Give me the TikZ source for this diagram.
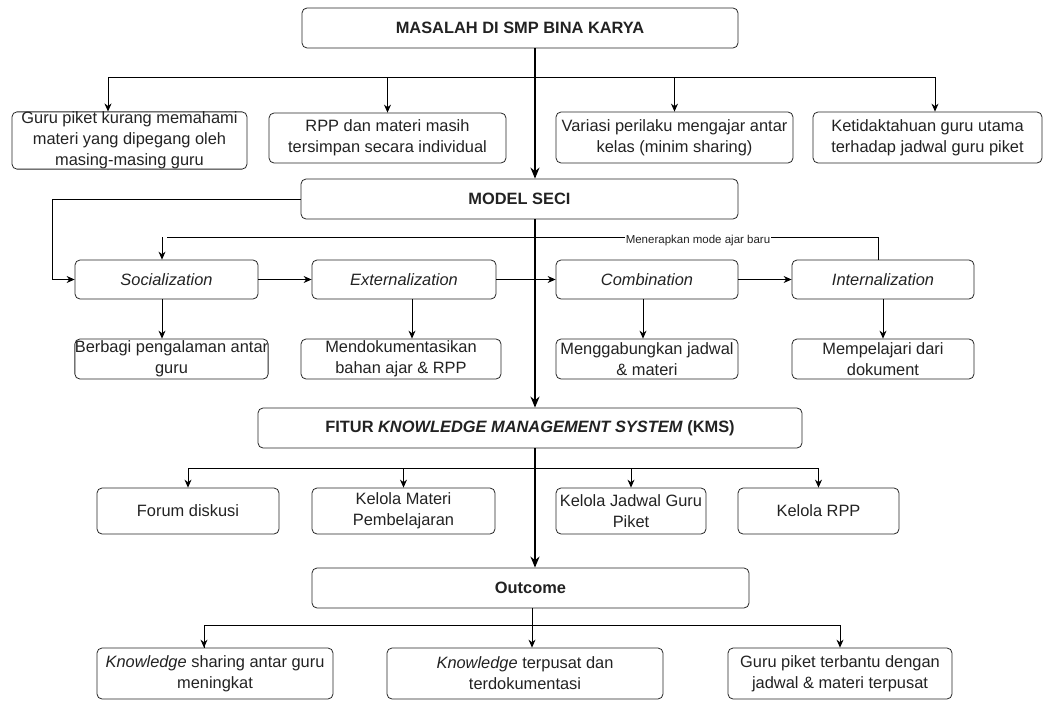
\documentclass[tikz,border=0pt]{standalone}
\usepackage{fontspec}
\setmainfont{Liberation Sans}
\usetikzlibrary{arrows.meta}
\definecolor{txt}{HTML}{222222}
\tikzset{
  box/.style={draw=black!85, line width=0.8pt, rounded corners=5pt, align=center, inner sep=0pt, text=txt,
    font=\fontsize{16.4}{21}\selectfont},
  thin/.style={line width=0.8pt, -{Stealth[length=8pt,width=7pt]}},
  thinline/.style={line width=0.8pt},
  thick/.style={line width=2pt, -{Stealth[length=11pt,width=9pt]}},
  lbl/.style={fill=white, inner sep=1pt, text=txt, font=\fontsize{11.5}{13}\selectfont}
}
\begin{document}
\begin{tikzpicture}[x=1pt,y=-1pt]
\useasboundingbox (0,0) rectangle (1053,701);
% main boxes
\node[box, minimum width=436pt, minimum height=40pt] (mas) at (520,28) {\textbf{MASALAH DI SMP BINA KARYA}};
\node[box, minimum width=235pt, minimum height=55pt] (p1) at (129.5,140.5) {Guru piket kurang memahami\\materi yang dipegang oleh\\masing-masing guru};
\node[box, minimum width=237pt, minimum height=50pt] (p2) at (387.5,138) {RPP dan materi masih\\tersimpan secara individual};
\node[box, minimum width=237pt, minimum height=51pt] (p3) at (674.5,137.5) {Variasi perilaku mengajar antar\\kelas (minim sharing)};
\node[box, minimum width=229pt, minimum height=51pt] (p4) at (927.5,137.5) {Ketidaktahuan guru utama\\terhadap jadwal guru piket};

\node[box, minimum width=437pt, minimum height=40pt] (seci) at (519.5,199) {\textbf{MODEL SECI}};
\node[box, minimum width=183pt, minimum height=39pt] (soc) at (166.5,279.5) {\textit{Socialization}};
\node[box, minimum width=184pt, minimum height=39pt] (ext) at (404,279.5) {\textit{Externalization}};
\node[box, minimum width=182pt, minimum height=39pt] (comb) at (647,279.5) {\textit{Combination}};
\node[box, minimum width=182pt, minimum height=39pt] (int) at (883,279.5) {\textit{Internalization}};

\node[box, minimum width=193pt, minimum height=40pt] (ber) at (171.5,359) {Berbagi pengalaman antar\\guru};
\node[box, minimum width=200pt, minimum height=40pt] (mend) at (401,359) {Mendokumentasikan\\bahan ajar \& RPP};
\node[box, minimum width=182pt, minimum height=40pt] (meng) at (647,359) {Menggabungkan jadwal\\\& materi};
\node[box, minimum width=182pt, minimum height=40pt] (memp) at (883,359) {Mempelajari dari\\dokument};

\node[box, minimum width=544pt, minimum height=40pt] (fitur) at (530,428) {\textbf{FITUR \textit{KNOWLEDGE MANAGEMENT SYSTEM} (KMS)}};
\node[box, minimum width=182pt, minimum height=46pt] (forum) at (188,511) {Forum diskusi};
\node[box, minimum width=183pt, minimum height=46pt] (kmat) at (403.5,511) {Kelola Materi\\Pembelajaran};
\node[box, minimum width=150pt, minimum height=46pt] (kjad) at (631,511) {Kelola Jadwal Guru\\Piket};
\node[box, minimum width=161pt, minimum height=46pt] (krpp) at (818.5,511) {Kelola RPP};

\node[box, minimum width=437pt, minimum height=40pt] (out) at (530.5,588) {\textbf{Outcome}};
\node[box, minimum width=236pt, minimum height=51pt] (o1) at (215,673.5) {\textit{Knowledge} sharing antar guru\\meningkat};
\node[box, minimum width=276pt, minimum height=51pt] (o2) at (525,673.5) {\textit{Knowledge} terpusat dan\\terdokumentasi};
\node[box, minimum width=224pt, minimum height=51pt] (o3) at (840,673.5) {Guru piket terbantu dengan\\jadwal \& materi terpusat};

% coordinates
\coordinate (m1) at ([xshift=15pt]mas.south);
\coordinate (mb) at ([xshift=15pt,yshift=-29pt]mas.south);
\coordinate (loopy) at (0,237);
\coordinate (fb) at (0,468);
\coordinate (ob) at (0,625);

% problem branch
\draw[thinline] (m1) -- (mb);
\draw[thin] (mb) -| ([xshift=-21.5pt]p1.north);
\draw[thin] (mb) -| (p2.north);
\draw[thin] (mb) -| (p3.north);
\draw[thin] (mb) -| ([xshift=7.5pt]p4.north);

% SECI
\draw[thin] (seci.west) -| ++(-248,76) |- (soc.west);
\draw[thin] (soc) -- (ext);
\draw[thin] (ext) -- (comb);
\draw[thin] (comb) -- (int);
\draw[thinline] ([xshift=-5pt]int.north) |- (loopy -| soc.north);
\draw[thin] ([xshift=-4.5pt]loopy -| soc.north) -- ([xshift=-4.5pt]soc.north);
\node[lbl] (lab) at (698,241) {Menerapkan mode ajar baru};

\draw[thin] ([xshift=-4.5pt]soc.south) -- ([xshift=-4.5pt]soc.south |- ber.north);
\draw[thin] ([xshift=8pt]ext.south) -- ([xshift=8pt]ext.south |- mend.north);
\draw[thin] ([xshift=-4pt]comb.south) -- ([xshift=-4pt]comb.south |- meng.north);
\draw[thin] (int.south) -- (memp.north);

% features
\draw[thin] ([xshift=5pt]fitur.south) |- (fb -| forum.north) -- (forum.north);
\draw[thin] (fb -| kmat.north) -- (kmat.north);
\draw[thin] (fb -| kjad.north) -- (kjad.north);
\draw[thinline] (fb -| forum.north) -- (fb -| krpp.north);
\draw[thin] (fb -| krpp.north) -- (krpp.north);

% outcome
\draw[thin] ([xshift=1.5pt]out.south) -- ([xshift=1.5pt]out.south |- o2.north);
\draw[thinline] ([xshift=1.5pt]out.south |- ob) -| ([xshift=-11pt]o1.north);
\draw[thin] ([xshift=-11pt]o1.north |- ob) -- ([xshift=-11pt]o1.north);
\draw[thinline] ([xshift=1.5pt]out.south |- ob) -- (ob -| o3.north);
\draw[thin] (ob -| o3.north) -- (o3.north);

% thick spine
\draw[thick] (m1) -- (m1 |- seci.north);
\draw[thick] (m1 |- seci.south) -- (m1 |- fitur.north);
\draw[thick] (m1 |- fitur.south) -- (m1 |- out.north);
\end{tikzpicture}
\end{document}
